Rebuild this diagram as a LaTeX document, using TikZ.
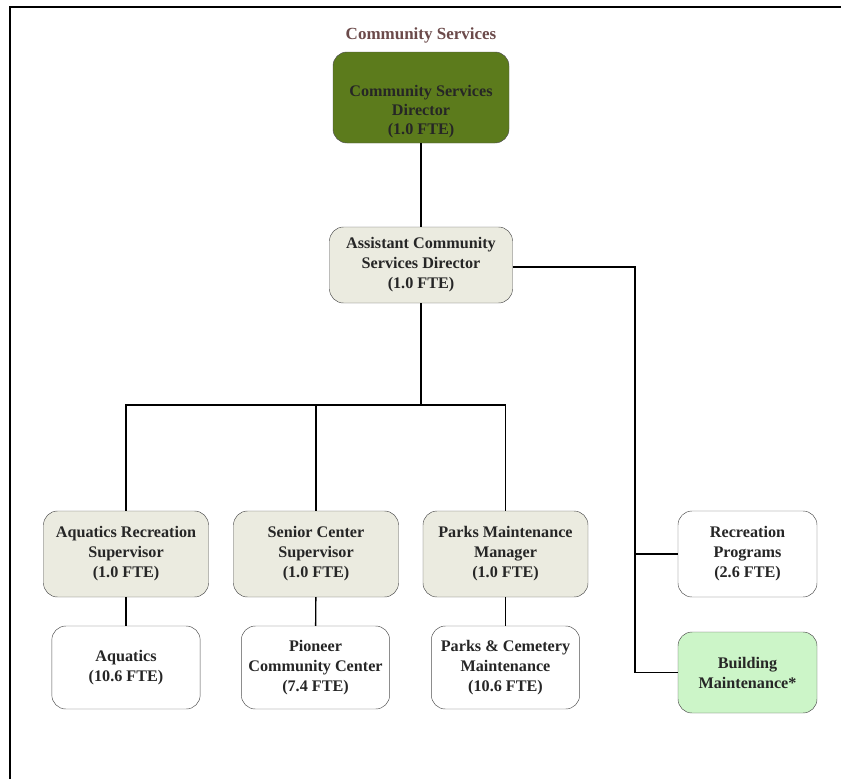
\documentclass[tikz,border=0pt]{standalone}
\usepackage{fontspec}
\setmainfont{Liberation Serif}
\usetikzlibrary{positioning}
\definecolor{dirgreen}{HTML}{5C7B1C}
\definecolor{supgray}{HTML}{EBEBE0}
\definecolor{bldgreen}{HTML}{CCF5C8}
\definecolor{titlebrown}{HTML}{6B4A4A}
\definecolor{edgegray}{HTML}{505050}
\tikzstyle{unit} = [draw=edgegray, rounded corners=12, align=center, inner sep=2pt,
  font=\bfseries\fontsize{13.8}{17}\selectfont, text=black!85]
\tikzstyle{director} = [unit, fill=dirgreen, minimum width=5.28cm, minimum height=2.73cm,
  font=\bfseries\fontsize{13.8}{16}\selectfont]
\tikzstyle{super} = [unit, fill=supgray, minimum width=4.95cm, minimum height=2.58cm]
\tikzstyle{team} = [unit, fill=white, minimum width=4.45cm, minimum height=2.49cm]
\tikzstyle{link} = [draw, line width=1.2pt]

\begin{document}
\begin{tikzpicture}[x=0.03cm,y=-0.03cm]
	\useasboundingbox (0,0) rectangle (841,779);
	% page frame
	\draw [line width=1.7pt] (10,779) -- (10,7) -- (841,7);

	% heading and the two top boxes
	\node [text=titlebrown,font=\bfseries\fontsize{14.5}{17}\selectfont] (title) at (421,35) {Community Services};
	\node [director] (dir) at (421,97.5) {\rule{0pt}{34pt}Community Services\\Director\\(1.0 FTE)};
	\node [unit,fill=supgray,minimum width=5.49cm,minimum height=2.28cm] (asst) at (421,265) {Assistant Community\\Services Director\\(1.0 FTE)};

	% supervisors
	\node [super] (aqsup) at (126,554) {Aquatics Recreation\\Supervisor\\(1.0 FTE)};
	\node [super] (snsup) at (316,554) {Senior Center\\Supervisor\\(1.0 FTE)};
	\node [super] (pkmgr) at (505.5,554) {Parks Maintenance\\Manager\\(1.0 FTE)};

	% teams below the supervisors
	\node [team] (aq) at (126,667.5) {Aquatics\\(10.6 FTE)};
	\node [team] (pion) at (315.5,667.5) {Pioneer\\Community Center\\(7.4 FTE)};
	\node [team] (pkcem) at (505.5,667.5) {Parks \& Cemetery\\Maintenance\\(10.6 FTE)};

	% boxes on the right branch
	\node [team,minimum width=4.17cm,minimum height=2.58cm] (rec) at (747.5,554) {Recreation\\Programs\\(2.6 FTE)};
	\node [unit,fill=bldgreen,minimum width=4.17cm,minimum height=2.43cm] (bld) at (747.5,672.5) {Building\\Maintenance*};

	% lines down the middle
	\coordinate (bus) at (421,405);
	\draw [link] (dir) -- (asst);
	\draw [link] (asst) -- (bus);
	\draw [link] (aqsup.north) |- (bus) -| (pkmgr.north);
	\draw [link] (snsup.north) -- (snsup.north |- bus);
	\draw [link] (aqsup) -- (aq);
	\draw [link] (snsup) -- (pion);
	\draw [link] (pkmgr) -- (pkcem);

	% right branch
	\coordinate (rtop) at (635,267);
	\draw [link] (asst.east |- rtop) -- (rtop) |- (bld.west);
	\draw [link] (rtop |- rec.west) -- (rec.west);

\end{tikzpicture}
\end{document}
